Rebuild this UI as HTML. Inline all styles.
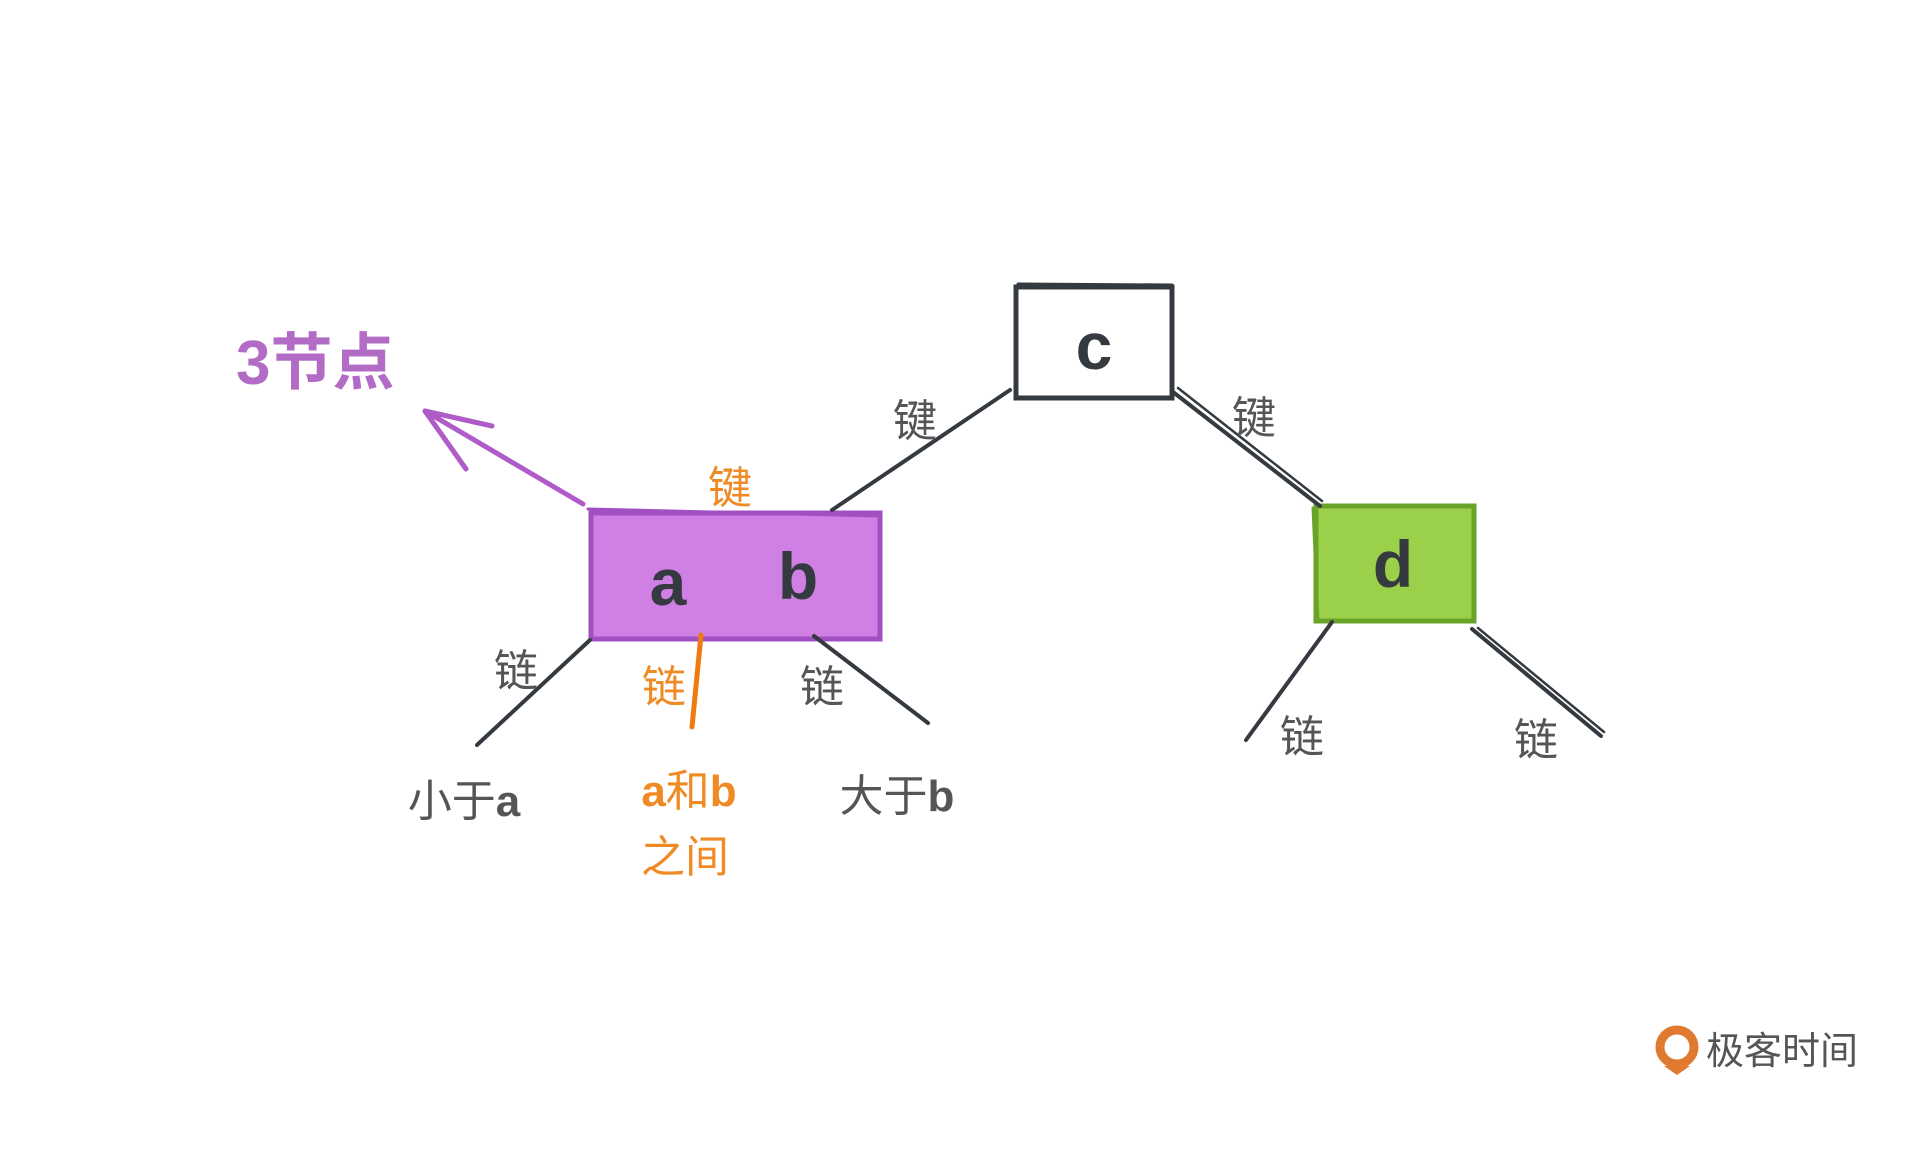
<!DOCTYPE html>
<html><head><meta charset="utf-8"><style>
html,body{margin:0;padding:0;background:#fff;}
svg text{font-family:"Liberation Sans","Noto Sans CJK SC",sans-serif;}
</style></head><body>
<svg width="1920" height="1145" viewBox="0 0 1920 1145" xmlns="http://www.w3.org/2000/svg">
<g transform="translate(-12,-4)">
<g stroke-linecap="round" fill="none">
<rect x="1028" y="291" width="156" height="111" fill="#fff" stroke="#343a40" stroke-width="5"/>
<line x1="1030" y1="288" x2="1184" y2="289" stroke="#343a40" stroke-width="3"/>
<rect x="603" y="517" width="289" height="126" fill="#d07fe4" stroke="#a050c0" stroke-width="5"/>
<line x1="600" y1="513" x2="890" y2="520" stroke="#a050c0" stroke-width="3"/>
<rect x="1328" y="510" width="158" height="115" fill="#9bd14a" stroke="#6aa32a" stroke-width="5"/>
<line x1="1325" y1="512" x2="1330" y2="625" stroke="#6aa32a" stroke-width="3"/>
<line x1="1022" y1="394" x2="844" y2="514" stroke="#343a40" stroke-width="4"/>
<line x1="1185" y1="396" x2="1332" y2="510" stroke="#343a40" stroke-width="4"/>
<line x1="1190" y1="392" x2="1334" y2="505" stroke="#343a40" stroke-width="2.5"/>
<line x1="602" y1="644" x2="489" y2="749" stroke="#343a40" stroke-width="4"/>
<line x1="713" y1="639" x2="704" y2="731" stroke="#ef7a12" stroke-width="5"/>
<line x1="826" y1="640" x2="940" y2="727" stroke="#343a40" stroke-width="4"/>
<line x1="1344" y1="626" x2="1258" y2="744" stroke="#343a40" stroke-width="4"/>
<line x1="1484" y1="633" x2="1613" y2="740" stroke="#343a40" stroke-width="4"/>
<line x1="1490" y1="632" x2="1616" y2="736" stroke="#343a40" stroke-width="2.5"/>
<line x1="595" y1="508" x2="437" y2="415" stroke="#b05cc8" stroke-width="5"/>
<line x1="437" y1="415" x2="504" y2="430" stroke="#b05cc8" stroke-width="5"/>
<line x1="437" y1="415" x2="478" y2="473" stroke="#b05cc8" stroke-width="5"/>
</g>
<g text-anchor="middle" font-weight="bold" fill="#343a40" font-size="66">
<text x="1106" y="373">c</text>
<text x="680" y="609">a</text>
<text x="810" y="603">b</text>
<text x="1405" y="591">d</text>
</g>
<text x="248" y="388" font-size="62" font-weight="bold" fill="#b36cc6">3节点</text>
<g text-anchor="middle" font-size="44" fill="#555">
<text x="927" y="440">键</text>
<text x="1266" y="437">键</text>
<text x="528" y="690">链</text>
<text x="834" y="706">链</text>
<text x="1314" y="756">链</text>
<text x="1548" y="759">链</text>
<text x="476" y="820">小于<tspan font-weight="bold">a</tspan></text>
<text x="909" y="815">大于<tspan font-weight="bold">b</tspan></text>
</g>
<g text-anchor="middle" font-size="44" fill="#f08a24">
<text x="742" y="507">键</text>
<text x="676" y="706">链</text>
<text x="701" y="810"><tspan font-weight="bold">a</tspan>和<tspan font-weight="bold">b</tspan></text>
<text x="697" y="876">之间</text>
</g>
</g>
<circle cx="1677" cy="1047" r="17" fill="none" stroke="#e07a30" stroke-width="9"/>
<path d="M1664 1066 L1690 1066 L1677 1075 Z" fill="#e07a30"/>
<text x="1706" y="1064" font-size="38" fill="#555">极客时间</text>
</svg>
</body></html>
